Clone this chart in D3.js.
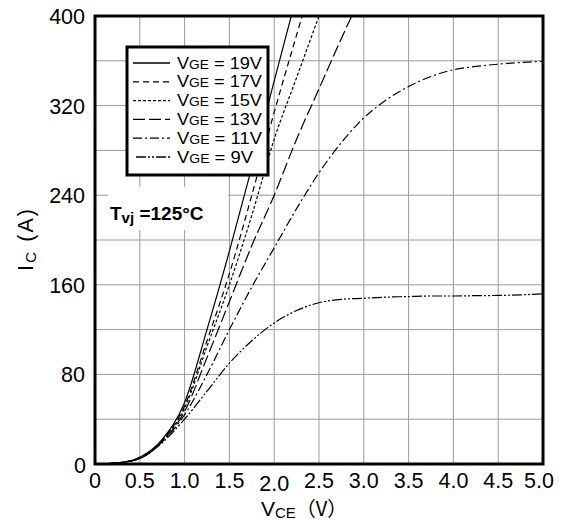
<!DOCTYPE html>
<html><head><meta charset="utf-8">
<script src="https://cdn.jsdelivr.net/npm/d3@7"></script>
<style>body{margin:0;background:#fff} svg{display:block} text{font-family:"Liberation Sans",Arial,sans-serif;fill:#000}</style>
</head><body><svg id="c" width="565" height="521"></svg>
<script>
// ---- data ----
const vce = [0,0.25,0.5,0.75,1.0,1.25,1.5,1.75,2.0,2.25,2.5,2.75,3.0,3.25,3.5,3.75,4.0,4.25,4.5,4.75,5.0];
const ic19 = [0,1,6,22,55,120,190,265,342,418];
const ic17 = [0,1,6,21,52,110,170,240,314,383,450];
const ic15 = [0,1,5,21,50,105,160,222,290,345,400,455];
const ic13 = [0,1,5,20,47,95,145,195,240,290,335,380,423];
const ic11 = [0,1,5,20,44,80,120,158,193,228,260,287,309,325,337,346,352,355,357,358.5,359.5];
const ic9  = [0,1,5,19,40,65,90,110,126,137,144,147,148,149,149.5,150,150,150.3,150.5,151,152];
const seriesNames = ["19V","17V","15V","13V","11V","9V"];
const seriesValues = [ic19,ic17,ic15,ic13,ic11,ic9];
const xTicks = [0,0.5,1.0,1.5,2.0,2.5,3.0,3.5,4.0,4.5,5.0];
const xTickLabels = ["0","0.5","1.0","1.5","2.0","2.5","3.0","3.5","4.0","4.5","5.0"];
const yTicks = [0,80,160,240,320,400];
const yGrid = [40,80,120,160,200,240,280,320,360];

// ---- styles ----
const dashes = [null,"6,4","3,2","12,4","9,3,2,3","10,2,2,2,2,2"];

const svg = d3.select("#c");
const L=95, R=543, T=16, B=464;
const x = d3.scaleLinear().domain([0,5]).range([L,R]);
const y = d3.scaleLinear().domain([0,400]).range([B,T]);

// grid
const g = svg.append("g");
g.selectAll(".vg").data(xTicks.slice(1,-1)).join("line")
  .attr("x1",d=>x(d)).attr("x2",d=>x(d)).attr("y1",T).attr("y2",B)
  .attr("stroke","#9a9a9a").attr("stroke-width",1);
g.selectAll(".hg").data(yGrid).join("line")
  .attr("x1",L).attr("x2",R).attr("y1",d=>y(d)).attr("y2",d=>y(d))
  .attr("stroke","#9a9a9a").attr("stroke-width",1);

// Tvj label background
svg.append("rect").attr("x",108).attr("y",187).attr("width",120).attr("height",43).attr("fill","#fff");

// clip
svg.append("clipPath").attr("id","pc").append("rect").attr("x",L).attr("y",T).attr("width",R-L).attr("height",B-T);

const line = d3.line().x(d=>x(d[0])).y(d=>y(d[1])).curve(d3.curveMonotoneX);
seriesValues.forEach((vals,k)=>{
  const pts = vals.map((v,j)=>[vce[j],v]);
  svg.append("path").attr("d",line(pts)).attr("fill","none")
    .attr("stroke","#000").attr("stroke-width",1.2)
    .attr("stroke-dasharray",dashes[k]).attr("clip-path","url(#pc)");
});

// frame
svg.append("rect").attr("x",L).attr("y",T).attr("width",R-L).attr("height",B-T)
  .attr("fill","none").attr("stroke","#000").attr("stroke-width",3);

// x tick labels
svg.selectAll(".xl").data(xTicks).join("text")
  .attr("x",(d,i)=>x(d)+(i===10?-4:0)).attr("y",(d,i)=>i===4?491:488)
  .attr("text-anchor","middle").attr("font-size",21.5).text((d,i)=>xTickLabels[i]);
// y tick labels
svg.selectAll(".yl").data(yTicks).join("text")
  .attr("x",d=>d===0?86:85).attr("y",d=>y(d)+(d===400?8:d===0?9:8))
  .attr("text-anchor","end").attr("font-size",21.5).text(d=>d===0?"0":d);

// axis titles
const xt = svg.append("text").attr("x",261).attr("y",516).attr("font-size",21);
xt.append("tspan").text("V");
xt.append("tspan").attr("font-size",15).attr("dy",2).text("CE");
xt.append("tspan").attr("dy",-2).attr("font-size",20).attr("font-family","'Noto Sans CJK SC',sans-serif").text("（V）");

const yt = svg.append("text").attr("transform","translate(33,240) rotate(-90)").attr("text-anchor","middle").attr("font-size",21.5)
  .attr("textLength",62).attr("lengthAdjust","spacing");
yt.append("tspan").text("I");
yt.append("tspan").attr("font-size",15.5).attr("dy",3).text("C");
yt.append("tspan").attr("dy",-3).text(" (A)");

// Tvj label
const tv = svg.append("text").attr("x",110).attr("y",220).attr("font-size",19).attr("font-weight","bold");
tv.append("tspan").text("T");
tv.append("tspan").attr("font-size",15).attr("dy",3).text("vj");
tv.append("tspan").attr("dy",-3).text(" =125°C");

// legend
svg.append("rect").attr("x",127).attr("y",47).attr("width",141).attr("height",128)
  .attr("fill","#fff").attr("stroke","#000").attr("stroke-width",3);
seriesNames.forEach((nm,k)=>{
  const yy = 63 + k*18.8;
  svg.append("line").attr("x1",k===5?136:133).attr("x2",170).attr("y1",yy).attr("y2",yy)
    .attr("stroke","#000").attr("stroke-width",1.3).attr("stroke-dasharray",dashes[k]);
  const t = svg.append("text").attr("x",177).attr("y",yy+5.5).attr("font-size",16.5)
    .attr("textLength", nm.length===3?85:76).attr("lengthAdjust","spacingAndGlyphs");
  t.append("tspan").text("V");
  t.append("tspan").attr("font-size",12.5).text("GE");
  t.append("tspan").text(" = "+nm);
});
</script></body></html>
